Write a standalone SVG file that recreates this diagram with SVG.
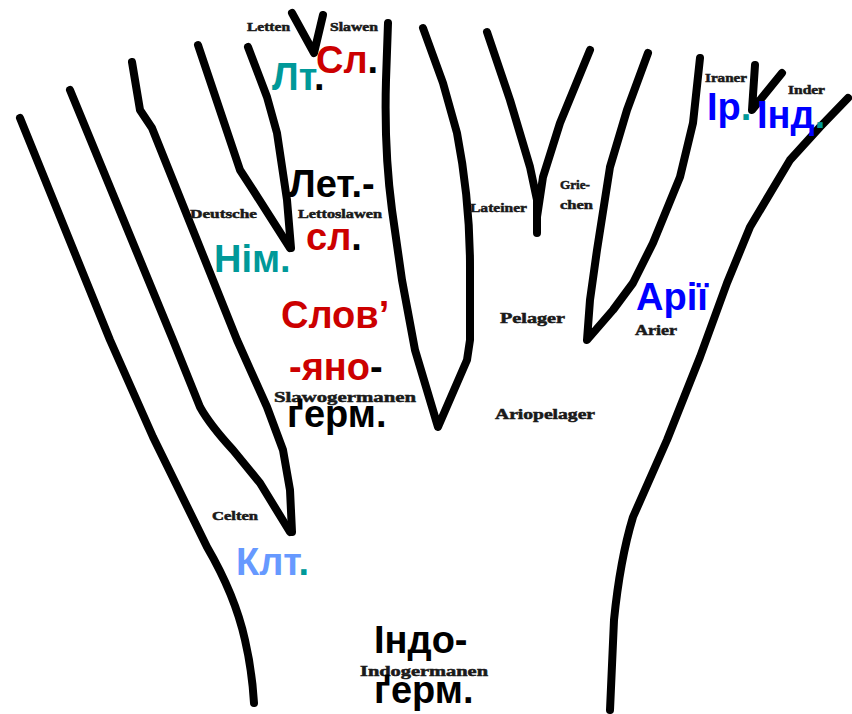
<svg xmlns="http://www.w3.org/2000/svg" width="852" height="714" viewBox="0 0 852 714">
<style>
.br{fill:none;stroke:#000;stroke-width:8;stroke-linecap:round;stroke-linejoin:round}
.de{font-family:"Liberation Serif","Times New Roman",serif;font-weight:bold;fill:#1a1a1a;stroke:#1a1a1a;stroke-width:0.5}
.uk{font-family:"Liberation Sans",Arial,sans-serif;font-weight:bold;font-size:38px}
.red{fill:#cc0000}.teal{fill:#009999}.blue{fill:#0000ff}.lblue{fill:#6699ff}.blk{fill:#000}
</style>
<rect width="852" height="714" fill="#fff"/>
<g id="connectors">
<path class="br" d="M20,118 L110,340 L153,437 L207,547 Q235,595 245,640 Q252,670 254,703"/>
<path class="br" d="M70,90 L173,340 L200,407 Q210,425 233,450 L260,483 L290,532"/>
<path class="br" d="M132,62 L140,110 L152,128 L237,340 L267,407 L283,450 L290,490 L292,532"/>
<path class="br" d="M198,45 L240,170 L253,190 L290,248"/>
<path class="br" d="M248,47 L267,97 L277,133 L287,200 L291,248"/>
<path class="br" d="M292,13 L314,53 L323,15"/>
<path class="br" d="M388,23 L386,80 Q384,150 392,210 L402,280 L415,350 L438,427 L467,360 L470,340 L470,267 Q470,200 457,133 L443,83 L423,28"/>
<path class="br" d="M487,32 L510,100 L530,167 L537,200 L537,233 L537,217 L543,177 L560,123 L590,50"/>
<path class="br" d="M648,53 L627,110 L610,167 L597,250 L590,300 L587,340 L613,310 L633,283 L653,243 L680,177 L693,123 L700,58"/>
<path class="br" d="M755,65 L752,110 L782,73"/>
<path class="br" d="M848,98 L820,127 L790,160 L750,227 L727,283 L700,357 L667,440 L633,517 Q620,560 614,620 L610,710"/>
</g>
<g id="labels-de">
<text class="de" x="247" y="31" font-size="12" textLength="43" lengthAdjust="spacingAndGlyphs">Letten</text>
<text class="de" x="330" y="31" font-size="12" textLength="48" lengthAdjust="spacingAndGlyphs">Slawen</text>
<text class="de" x="190" y="218" font-size="13" textLength="67" lengthAdjust="spacingAndGlyphs">Deutsche</text>
<text class="de" x="298" y="218" font-size="13" textLength="84" lengthAdjust="spacingAndGlyphs">Lettoslawen</text>
<text class="de" x="274" y="402" font-size="15" textLength="142" lengthAdjust="spacingAndGlyphs">Slawogermanen</text>
<text class="de" x="470" y="212" font-size="13" textLength="57" lengthAdjust="spacingAndGlyphs">Lateiner</text>
<text class="de" x="560" y="189" font-size="13" textLength="30" lengthAdjust="spacingAndGlyphs">Grie-</text>
<text class="de" x="560" y="209" font-size="13" textLength="33" lengthAdjust="spacingAndGlyphs">chen</text>
<text class="de" x="500" y="323" font-size="14" textLength="65" lengthAdjust="spacingAndGlyphs">Pelager</text>
<text class="de" x="635" y="335" font-size="14" textLength="42" lengthAdjust="spacingAndGlyphs">Arier</text>
<text class="de" x="705" y="82" font-size="12" textLength="42" lengthAdjust="spacingAndGlyphs">Iraner</text>
<text class="de" x="788" y="94" font-size="12" textLength="37" lengthAdjust="spacingAndGlyphs">Inder</text>
<text class="de" x="495" y="419" font-size="14" textLength="100" lengthAdjust="spacingAndGlyphs">Ariopelager</text>
<text class="de" x="212" y="520" font-size="12" textLength="46" lengthAdjust="spacingAndGlyphs">Celten</text>
<text class="de" x="360" y="676" font-size="14" textLength="128" lengthAdjust="spacingAndGlyphs">Indogermanen</text>
</g>
<g id="labels-uk">
<text class="uk" x="272" y="90"><tspan class="teal">Лт</tspan><tspan class="blk">.</tspan></text>
<text class="uk" x="316" y="73"><tspan class="red">Сл</tspan><tspan class="blk">.</tspan></text>
<text class="uk blk" x="289" y="197">Лет.-</text>
<text class="uk" x="306" y="250"><tspan class="red">сл</tspan><tspan class="blk">.</tspan></text>
<text class="uk teal" x="214" y="272">Нім.</text>
<text class="uk red" x="281" y="328">Слов’</text>
<text class="uk" x="289" y="380"><tspan class="red">-яно</tspan><tspan class="blk">-</tspan></text>
<text class="uk blk" x="287" y="427">ґерм.</text>
<text class="uk" x="236" y="575"><tspan class="lblue">Клт</tspan><tspan class="teal">.</tspan></text>
<text class="uk blk" x="374" y="653">Індо-</text>
<text class="uk blk" x="374" y="703">ґерм.</text>
<text class="uk" x="707" y="120"><tspan class="blue">Ір</tspan><tspan class="teal">.</tspan></text>
<text class="uk" x="757" y="128"><tspan class="blue">Інд</tspan><tspan class="teal">.</tspan></text>
<text class="uk blue" x="636" y="310">Арії</text>
</g>
</svg>
